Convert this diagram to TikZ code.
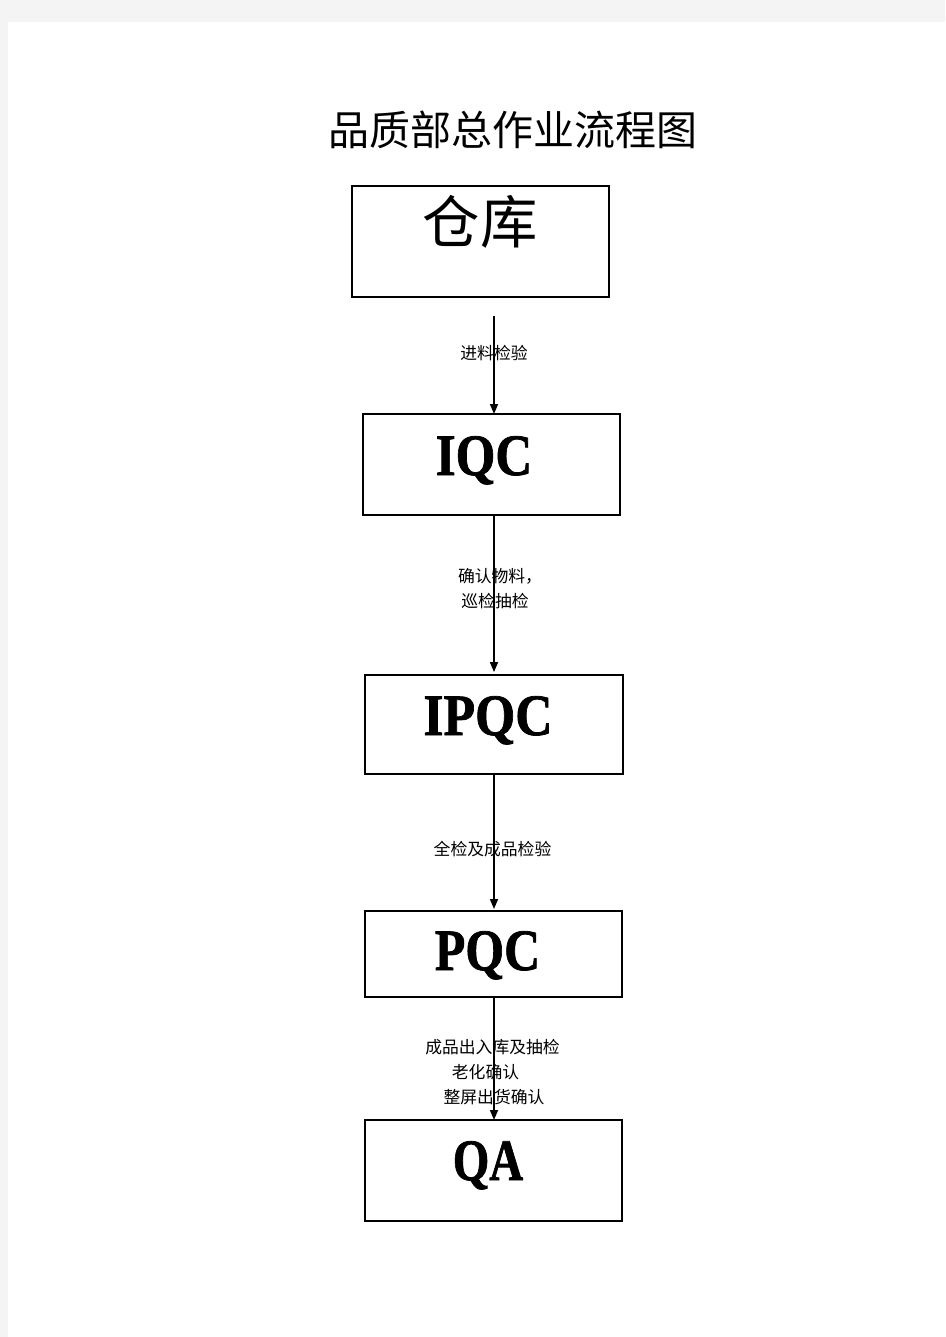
\documentclass[tikz,border=0pt]{standalone}
\usepackage{fontspec}
\setmainfont{Liberation Serif}
\newfontfamily\cjk{Noto Sans CJK SC}
\newfontfamily\heavy[FakeBold=1.3]{Liberation Serif Bold}
\usetikzlibrary{arrows.meta}
\definecolor{pagegray}{HTML}{F4F4F4}
\begin{document}
\begin{tikzpicture}[x=0.75pt,y=-0.75pt,
  boxst/.style={draw=black,line width=0.8pt,inner sep=0pt,outer sep=0pt},
  bigcjk/.style={font=\cjk\fontsize{43}{43}\selectfont,inner sep=0pt},
  bigtxt/.style={font=\heavy\fontsize{44}{44}\selectfont,inner sep=0pt,anchor=base},
  lbl/.style={font=\cjk\fontsize{12.6}{14}\selectfont,inner sep=0pt},
  arr/.style={line width=1.2pt,-{Triangle[length=7.5pt,width=6pt]}}]
\useasboundingbox (0,0) rectangle (945,1337);
\fill[pagegray] (0,0) rectangle (945,1337);
\fill[white] (8,22) rectangle (945,1337);

% title
\node[font=\cjk\fontsize{30.75}{31}\selectfont,inner sep=0pt] (title) at (512.5,130) {品质部总作业流程图};

% boxes
\node[boxst,minimum width=257*0.75pt,minimum height=111*0.75pt] (wh) at (480.5,241.5) {};
\node[boxst,minimum width=257*0.75pt,minimum height=101*0.75pt] (iqc) at (491.5,464.5) {};
\node[boxst,minimum width=258*0.75pt,minimum height=99*0.75pt] (ipqc) at (494,724.5) {};
\node[boxst,minimum width=257*0.75pt,minimum height=86*0.75pt] (pqc) at (493.5,954) {};
\node[boxst,minimum width=257*0.75pt,minimum height=101*0.75pt] (qa) at (493.5,1170.5) {};

% box texts
\node[bigcjk] (whT) at (480,222) {仓库};
\node[bigtxt] (iqcT) at (484,475) {\scalebox{0.87}[1]{IQC}};
\node[bigtxt] (ipqcT) at (488,735) {\scalebox{0.88}[1]{IPQC}};
\node[bigtxt] (pqcT) at (487.5,970) {\scalebox{0.85}[1]{PQC}};
\node[bigtxt] (qaT) at (488,1180) {\scalebox{0.8}[1]{QA}};

% connectors
\coordinate (ax) at (494,0);
\coordinate (s1) at (494,316);
\draw[arr] (s1) -- (iqc.north -| ax);
\draw[arr] (iqc.south -| ax) -- ([yshift=2.2pt]ipqc.north -| ax);
\draw[arr] (ipqc.south -| ax) -- ([yshift=1.5pt]pqc.north -| ax);
\draw[arr] (pqc.south -| ax) -- (qa.north -| ax);

% connector labels
\node[lbl] (l1) at (494,353) {进料检验};
\node[lbl] (l2a) at (500,576) {确认物料，};
\node[lbl] (l2b) at (495,601) {巡检抽检};
\node[lbl] (l3) at (492.5,849) {全检及成品检验};
\node[lbl] (l4a) at (492.5,1047) {成品出入库及抽检};
\node[lbl] (l4b) at (485.5,1072) {老化确认};
\node[lbl] (l4c) at (494,1097) {整屏出货确认};
\end{tikzpicture}
\end{document}
